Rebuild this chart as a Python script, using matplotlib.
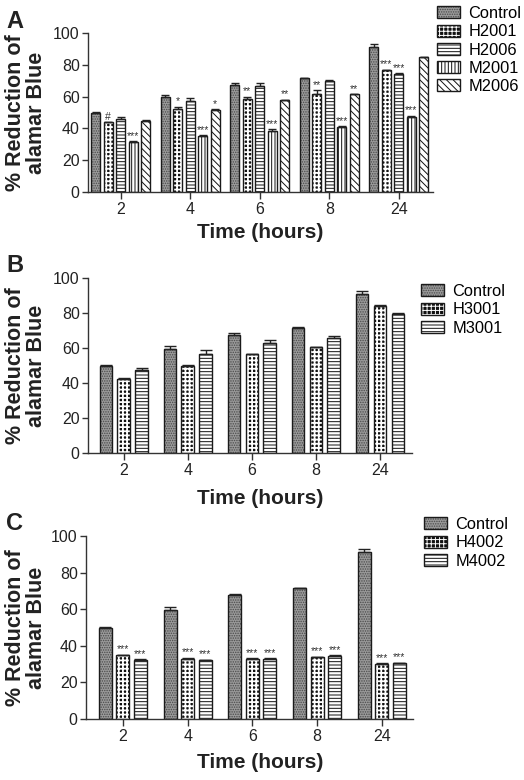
import numpy as np
import matplotlib.pyplot as plt
from matplotlib.patches import Patch

plt.rcParams['font.family'] = ['Liberation Sans', 'DejaVu Sans']
plt.rcParams['hatch.linewidth'] = 0.7

times = ['2', '4', '6', '8', '24']

# control is shared by the three panels
control = [50, 59.5, 67.5, 71.5, 91]
control_err = [0.3, 1.8, 0.8, 0.3, 1.8]

# panel A
h2001 = [43.8, 52, 58.3, 61.8, 76.5]
h2001_err = [0.3, 1.6, 1.6, 2.4, 0.5]
h2001_sig = ['#', '*', '**', '**', '***']
h2006 = [46, 57, 66.6, 69.7, 74.3]
h2006_err = [1.0, 2.4, 1.7, 0.5, 0.5]
h2006_sig = ['', '', '', '', '***']
m2001 = [31.6, 35.5, 38.4, 41, 47.4]
m2001_err = [0.4, 0.4, 1.1, 0.5, 0.5]
m2001_sig = ['***', '***', '***', '***', '***']
m2006 = [44.9, 51.8, 57.8, 61.5, 84.7]
m2006_err = [0.1, 0.2, 0.2, 0.2, 0.3]
m2006_sig = ['', '*', '**', '**', '']

# panel B
h3001 = [42.5, 49.8, 56.3, 60.5, 84.2]
h3001_err = [0.3, 0.3, 0.3, 0.3, 0.3]
m3001 = [47.5, 56.5, 62.8, 65.8, 79.5]
m3001_err = [1.0, 2.2, 2.0, 1.3, 0.3]

# panel C
h4002 = [34.8, 33.0, 33.0, 33.7, 30.0]
h4002_err = [0.4, 0.4, 0.3, 0.4, 0.4]
h4002_sig = ['***'] * 5
m4002 = [32.3, 32.3, 33.0, 34.4, 30.4]
m4002_err = [0.3, 0.2, 0.2, 0.4, 0.4]
m4002_sig = ['***'] * 5

W, H = 524, 780
fig = plt.figure(figsize=(W / 100, H / 100), dpi=100)

# (facecolor, hatch colour, hatch, hatch linewidth)
styles = {
    'control': ('#9a9a9a', '#4a4a4a', '.......', 0.7),
    'checker': ('#111111', 'white', '++++', 1.3),
    'hlines': ('white', '#111111', '-----', 0.7),
    'vlines': ('white', '#111111', '|||||', 0.7),
    'diag': ('white', '#111111', '\\\\\\\\\\', 0.7),
}


def layers(style):
    fc, hc, hatch, hlw = styles[style]
    with plt.rc_context({'hatch.linewidth': hlw}):
        fill = Patch(facecolor=fc, edgecolor=hc, hatch=hatch, linewidth=0)
    outline = Patch(fill=False, edgecolor='#1a1a1a', linewidth=1.0)
    return (fill, outline)


def draw_bar(ax, x, h, w, style):
    fc, hc, hatch, hlw = styles[style]
    with plt.rc_context({'hatch.linewidth': hlw}):
        ax.bar(x, h, w, color=fc, hatch=hatch, edgecolor=hc, linewidth=0)
    ax.bar(x, h, w, fill=False, edgecolor='#1a1a1a', linewidth=1.0)


def ax_at(left, right, top, bottom):
    return fig.add_axes([left / W, 1 - bottom / H, (right - left) / W, (bottom - top) / H])


def panel(ax, series, width, step, xlim, capsize, leg_xy):
    x = np.arange(len(times))
    n = len(series)
    for i, (name, vals, errs, sig, style) in enumerate(series):
        xi = x + (i - (n - 1) / 2) * step
        vals = np.array(vals)
        errs = np.array(errs)
        draw_bar(ax, xi, vals, width, style)
        ax.errorbar(xi, vals, yerr=[np.zeros_like(errs), errs], fmt='none',
                    ecolor='#222222', elinewidth=1.0, capsize=capsize, capthick=1.0)
        for xx, v, e, s in zip(xi, vals, errs, sig):
            if s:
                ax.text(xx, v + e + 0.2, s, ha='center', va='bottom', fontsize=7.5, color='#333333')
    ax.set_xlim(*xlim)
    ax.set_ylim(0, 100)
    ax.set_yticks([0, 20, 40, 60, 80, 100])
    ax.set_xticks(x)
    ax.set_xticklabels(times)
    for s in ['top', 'right']:
        ax.spines[s].set_visible(False)
    for s in ['left', 'bottom']:
        ax.spines[s].set_linewidth(1.0)
        ax.spines[s].set_color('#333333')
    ax.tick_params(axis='both', labelsize=11.5, length=4, width=1.0, color='#333333',
                   labelcolor='#222222', pad=2)
    ax.tick_params(axis='x', length=5)
    handles = [layers(s[4]) for s in series]
    labels = [s[0] for s in series]
    fig.legend(handles, labels, loc='upper left',
               bbox_to_anchor=(leg_xy[0] / W, 1 - leg_xy[1] / H),
               frameon=False, fontsize=11.8, borderpad=0, borderaxespad=0,
               handlelength=1.4, handleheight=0.75, handletextpad=0.5,
               labelspacing=0.2)


# Panel A
axA = ax_at(88, 433, 33, 192)
panel(axA, [
    ('Control', control, control_err, [''] * 5, 'control'),
    ('H2001', h2001, h2001_err, h2001_sig, 'checker'),
    ('H2006', h2006, h2006_err, h2006_sig, 'hlines'),
    ('M2001', m2001, m2001_err, m2001_sig, 'vlines'),
    ('M2006', m2006, m2006_err, m2006_sig, 'diag'),
], width=0.13, step=0.18, xlim=(-0.47, 4.49), capsize=3, leg_xy=(437, 6))

# Panel B
axB = ax_at(88, 412, 278, 453)
panel(axB, [
    ('Control', control, control_err, [''] * 5, 'control'),
    ('H3001', h3001, h3001_err, [''] * 5, 'checker'),
    ('M3001', m3001, m3001_err, [''] * 5, 'hlines'),
], width=0.2, step=0.28, xlim=(-0.56, 4.5), capsize=4, leg_xy=(421, 284))

# Panel C
axC = ax_at(86, 413, 536, 719)
panel(axC, [
    ('Control', control, control_err, [''] * 5, 'control'),
    ('H4002', h4002, h4002_err, h4002_sig, 'checker'),
    ('M4002', m4002, m4002_err, m4002_sig, 'hlines'),
], width=0.2, step=0.27, xlim=(-0.57, 4.48), capsize=4, leg_xy=(424, 517))

ylabel = '% Reduction of\nalamar Blue'
for letter, ly, (top, bottom), xl_y in [('A', 21, (33, 192), 232),
                                        ('B', 266, (278, 453), 499),
                                        ('C', 523, (536, 719), 762)]:
    fig.text(6 / W, 1 - ly / H, letter, fontsize=17, fontweight='bold',
             ha='left', va='center', color='#222222')
    fig.text(26 / W, 1 - (top + bottom) / 2 / H, ylabel, rotation=90, fontsize=15.5,
             fontweight='bold', ha='center', va='center', multialignment='center',
             linespacing=1.0, color='#222222')
    fig.text(260 / W, 1 - xl_y / H, 'Time (hours)', fontsize=15, fontweight='bold',
             ha='center', va='center', color='#222222')

plt.savefig('out.png', dpi=100)
